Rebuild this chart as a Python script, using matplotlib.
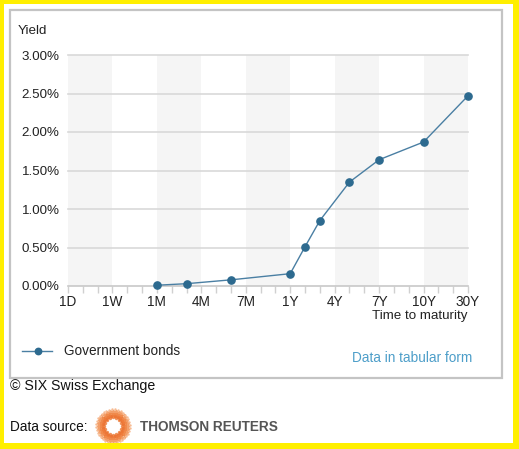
import numpy as np
import matplotlib
matplotlib.use("Agg")
import matplotlib.pyplot as plt
from matplotlib.patches import Rectangle

plt.rcParams['font.family'] = ['Liberation Sans', 'DejaVu Sans']

# ---- data ----
tick_labels = ["1D", "1W", "1M", "4M", "7M", "1Y", "4Y", "7Y", "10Y", "30Y"]
maturities = ["1M", "3M", "6M", "1Y", "2Y", "3Y", "5Y", "7Y", "10Y", "30Y"]
maturity_pos = [6, 8, 11, 15, 16, 17, 19, 21, 24, 27]   # position on the 0..27 maturity scale
yields = [0.01, 0.03, 0.08, 0.16, 0.51, 0.85, 1.35, 1.64, 1.87, 2.47]
y_ticks = [0.0, 0.5, 1.0, 1.5, 2.0, 2.5, 3.0]

W, H = 519, 449
fig = plt.figure(figsize=(W / 100, H / 100), dpi=100)
fig.patch.set_facecolor("white")

def fx(px):
    return px / W

def fy(py):
    return 1 - py / H

# yellow frame
for (x0, y0, w, h) in [(0, 0, 4, H), (0, 0, W, 4), (513, 0, 6, H), (0, 443, W, 6)]:
    fig.patches.append(Rectangle((fx(x0), fy(y0 + h)), w / W, h / H, transform=fig.transFigure,
                                 facecolor="#ffef00", edgecolor="none", zorder=10))
# gray box
fig.patches.append(Rectangle((fx(10), fy(378)), (502 - 10) / W, (378 - 10) / H, transform=fig.transFigure,
                             facecolor="none", edgecolor="#c4c4c4", linewidth=1.6, zorder=5))

ax = fig.add_axes([fx(68), fy(286), (468 - 68) / W, (286 - 55) / H])
ax.set_xlim(0, 27)
ax.set_ylim(0, 3.0)

# alternating bands
for i in range(0, 27, 6):
    ax.axvspan(i, i + 3, color="#f5f5f5", zorder=0, linewidth=0)
# horizontal grid
for yv in y_ticks[1:]:
    ax.axhline(yv, color="#d9d9d9", linewidth=1.2, zorder=1, clip_on=False)

ax.plot(maturity_pos, yields, color="#4a7fa3", linewidth=1.0, zorder=3, clip_on=False)
ax.plot(maturity_pos, yields, linestyle="none", marker="o", markersize=5.2,
        color="#2d6a8f", zorder=4, clip_on=False)

for s in ["top", "right", "left"]:
    ax.spines[s].set_visible(False)
ax.spines["bottom"].set_color("#c8c8c8")
ax.spines["bottom"].set_linewidth(1.2)

ax.set_xticks(range(0, 28, 3))
ax.set_xticklabels(tick_labels, fontsize=9.8, color="#222222")
ax.set_xticks(range(0, 28), minor=True)
ax.tick_params(axis="x", which="both", length=5, color="#d0d0d0", width=1, pad=1.5)
ax.set_yticks(y_ticks)
ax.set_yticklabels([f"{v:.2f}%" for v in y_ticks], fontsize=9.6, color="#222222")
ax.tick_params(axis="y", length=0, pad=6)
ax.set_facecolor("white")

fig.text(fx(18), fy(31), "Yield", fontsize=9.6, va="center", ha="left", color="#222222")
fig.text(fx(468), fy(316), "Time to maturity", fontsize=9.6, va="center", ha="right", color="#222222")

# legend
fig.lines.append(plt.Line2D([fx(22), fx(52)], [fy(351), fy(351)], transform=fig.transFigure,
                            color="#4a7fa3", linewidth=1.0))
fig.lines.append(plt.Line2D([fx(38)], [fy(351)], transform=fig.transFigure, marker="o",
                            markersize=4.6, color="#2d6a8f", linestyle="none"))
fig.text(fx(64), fy(351), "Government bonds", fontsize=9.8, va="center", ha="left", color="#222222")
fig.text(fx(472), fy(358), "Data in tabular form", fontsize=9.8, va="center", ha="right", color="#4d9ec9")

fig.text(fx(10), fy(386), "© SIX Swiss Exchange", fontsize=10.2, va="center", ha="left", color="#111111")
fig.text(fx(10), fy(427), "Data source:", fontsize=9.8, va="center", ha="left", color="#111111")

# Thomson Reuters logo (dotted orange ring)
lax = fig.add_axes([fx(95), fy(444), 36 / W, 36 / H])
lax.set_xlim(-1, 1)
lax.set_ylim(-1, 1)
lax.set_aspect("equal")
lax.axis("off")
for k, (r, n, s, c) in enumerate([(0.48, 16, 6, "#f0925a"), (0.57, 20, 7, "#ec7636"),
                                  (0.66, 24, 7, "#ee7c3c"), (0.75, 28, 6, "#f08a4c"),
                                  (0.84, 32, 5, "#f39e68"), (0.93, 36, 3, "#f7bb92")]):
    th = np.linspace(0, 2 * np.pi, n, endpoint=False) + k * 0.15
    lax.scatter(r * np.cos(th), r * np.sin(th), s=s, color=c, linewidths=0)
fig.text(fx(140), fy(427), "THOMSON REUTERS", fontsize=9.8, fontweight="bold",
         va="center", ha="left", color="#555555")

fig.savefig("out.png", dpi=100, facecolor="white")
